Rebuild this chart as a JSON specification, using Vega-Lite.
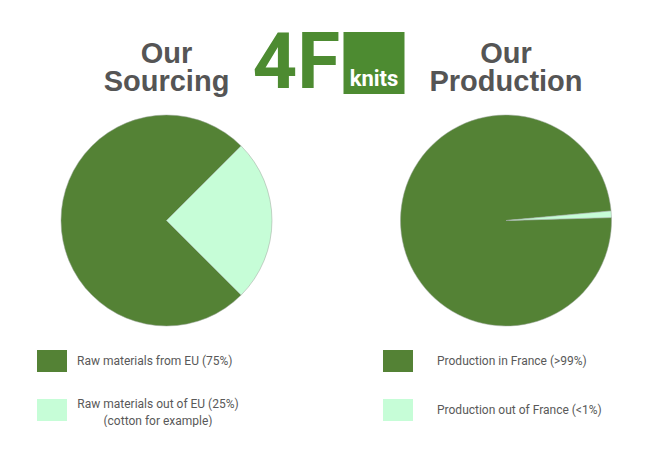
{
  "$schema": "https://vega.github.io/schema/vega-lite/v6.json",
  "bounds": "flush",
  "padding": {"left": 37, "top": 26, "right": 0, "bottom": 0},
  "background": "white",
  "config": {"view": {"stroke": null}, "font": "Liberation Sans"},
  "spacing": 21,
  "vconcat": [
    {
      "width": 337,
      "height": 62,
      "data": {"values": [{"part": "4F"}, {"part": "knits"}]},
      "layer": [
        {
          "transform": [{"filter": "datum.part == 'knits'"}],
          "mark": {"type": "rect", "color": "#4d8b31", "width": 61},
          "encoding": {"x": {"value": "width"}, "y": {"value": 0}, "y2": {"value": "height"}}
        },
        {
          "transform": [{"filter": "datum.part == '4F'"}],
          "mark": {"type": "text", "font": "Roboto", "fontSize": 78, "fontWeight": "bold", "color": "#4d8b31", "align": "right", "baseline": "middle", "dx": -34, "dy": 2},
          "encoding": {"x": {"value": "width"}, "text": {"field": "part"}}
        },
        {
          "transform": [{"filter": "datum.part == 'knits'"}],
          "mark": {"type": "text", "font": "Roboto", "fontSize": 22, "fontWeight": "bold", "color": "white", "baseline": "middle", "dy": 16},
          "encoding": {"x": {"value": "width"}, "text": {"field": "part"}}
        }
      ]
    },
    {
      "spacing": 87,
      "resolve": {"scale": {"color": "independent", "theta": "independent"}, "legend": {"color": "independent"}},
      "hconcat": [
        {
          "width": 259,
          "height": 211,
          "title": {"text": ["Our", "Sourcing"], "fontSize": 29, "fontWeight": "bold", "color": "#555555", "anchor": "middle", "lineHeight": 28, "offset": 17, "font": "Liberation Sans"},
          "data": {"values": [
            {"label": "Raw materials from EU (75%)", "share": 75, "rank": 1},
            {"label": "Raw materials out of EU (25%)|(cotton for example)", "share": 25, "rank": 2}
          ]},
          "mark": {"type": "arc", "stroke": "#9aa59a", "strokeWidth": 0.5},
          "encoding": {
            "theta": {"field": "share", "type": "quantitative", "stack": true, "scale": {"range": [2.356, 8.639]}},
            "order": {"field": "rank", "type": "quantitative"},
            "color": {
              "field": "label", "type": "nominal",
              "scale": {"domain": ["Raw materials from EU (75%)", "Raw materials out of EU (25%)|(cotton for example)"], "range": ["#548235", "#c6fdd7"]},
              "legend": {
                "orient": "bottom", "direction": "vertical", "title": null,
                "symbolType": "M-1,-0.733H1V0.733H-1Z", "symbolSize": 900, "symbolStrokeWidth": 0,
                "labelFont": "Roboto", "labelFontSize": 12, "labelColor": "#595959", "labelOffset": 10,
                "rowPadding": 23, "offset": 20, "labelLimit": 300,
                "labelExpr": "split(datum.label, '|')",
                "encoding": {"labels": {
                  "dy": {"value": {"expr": "indexof(datum.label, '|') >= 0 ? -6 : 0"}},
                  "dx": {"value": {"expr": "indexof(datum.label, '|') >= 0 ? 81 : 0"}},
                  "align": {"value": {"expr": "indexof(datum.label, '|') >= 0 ? 'center' : 'left'"}},
                  "lineHeight": {"value": 17}
                }}
              }
            }
          }
        },
        {
          "width": 246,
          "height": 211,
          "title": {"text": ["Our", "Production"], "fontSize": 29, "fontWeight": "bold", "color": "#555555", "anchor": "middle", "lineHeight": 28, "offset": 17, "font": "Liberation Sans"},
          "data": {"values": [
            {"label": "Production in France (>99%)", "share": 99, "rank": 1},
            {"label": "Production out  of France (<1%)", "share": 1, "rank": 2}
          ]},
          "mark": {"type": "arc", "stroke": "#9aa59a", "strokeWidth": 0.5},
          "encoding": {
            "theta": {"field": "share", "type": "quantitative", "stack": true, "scale": {"range": [1.543, 7.826]}},
            "order": {"field": "rank", "type": "quantitative"},
            "color": {
              "field": "label", "type": "nominal",
              "scale": {"domain": ["Production in France (>99%)", "Production out  of France (<1%)"], "range": ["#548235", "#c6fdd7"]},
              "legend": {
                "orient": "bottom", "direction": "vertical", "title": null,
                "symbolType": "M-1,-0.733H1V0.733H-1Z", "symbolSize": 900, "symbolStrokeWidth": 0,
                "labelFont": "Roboto", "labelFontSize": 12, "labelColor": "#595959", "labelOffset": 24,
                "rowPadding": 23, "offset": 20, "labelLimit": 300
              }
            }
          }
        }
      ]
    }
  ]
}
